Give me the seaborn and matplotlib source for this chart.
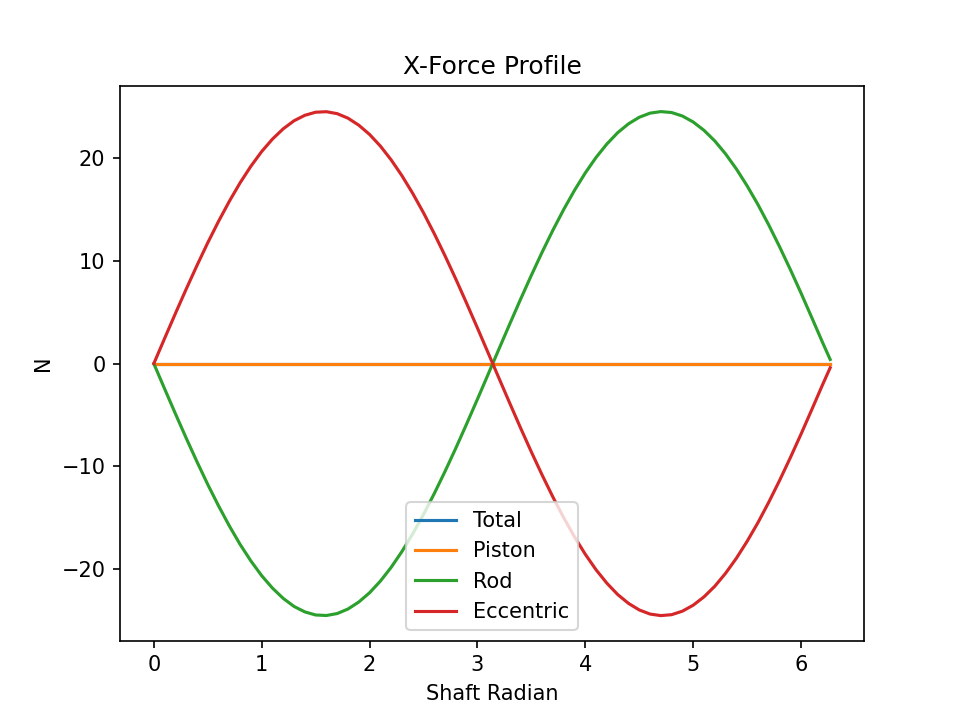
import matplotlib
matplotlib.use("Agg")
import matplotlib.pyplot as plt
import seaborn as sns
import numpy as np
import pandas as pd

shaft_radian = [0.0, 0.1, 0.2, 0.3, 0.4, 0.5, 0.6, 0.7, 0.8, 0.9,
                1.0, 1.1, 1.2, 1.3, 1.4, 1.5, 1.6, 1.7, 1.8, 1.9,
                2.0, 2.1, 2.2, 2.3, 2.4, 2.5, 2.6, 2.7, 2.8, 2.9,
                3.0, 3.1, 3.2, 3.3, 3.4, 3.5, 3.6, 3.7, 3.8, 3.9,
                4.0, 4.1, 4.2, 4.3, 4.4, 4.5, 4.6, 4.7, 4.8, 4.9,
                5.0, 5.1, 5.2, 5.3, 5.4, 5.5, 5.6, 5.7, 5.8, 5.9,
                6.0, 6.1, 6.2, 6.27]

eccentric = [0.0, 2.45, 4.87, 7.24, 9.54, 11.75, 13.83, 15.78, 17.58, 19.19,
             20.62, 21.83, 22.83, 23.61, 24.14, 24.44, 24.49, 24.30, 23.86, 23.18,
             22.28, 21.15, 19.81, 18.27, 16.55, 14.66, 12.63, 10.47, 8.21, 5.86,
             3.46, 1.02, -1.43, -3.86, -6.26, -8.59, -10.84, -12.98, -14.99, -16.85,
             -18.54, -20.05, -21.35, -22.45, -23.31, -23.95, -24.35, -24.50, -24.41, -24.07,
             -23.49, -22.68, -21.65, -20.39, -18.93, -17.28, -15.47, -13.49, -11.38, -9.16,
             -6.85, -4.46, -2.04, -0.40]

rod = [0.0, -2.45, -4.87, -7.24, -9.54, -11.75, -13.83, -15.78, -17.58, -19.19,
       -20.62, -21.83, -22.83, -23.61, -24.14, -24.44, -24.49, -24.30, -23.86, -23.18,
       -22.28, -21.15, -19.81, -18.27, -16.55, -14.66, -12.63, -10.47, -8.21, -5.86,
       -3.46, -1.02, 1.43, 3.86, 6.26, 8.59, 10.84, 12.98, 14.99, 16.85,
       18.54, 20.05, 21.35, 22.45, 23.31, 23.95, 24.35, 24.50, 24.41, 24.07,
       23.49, 22.68, 21.65, 20.39, 18.93, 17.28, 15.47, 13.49, 11.38, 9.16,
       6.85, 4.46, 2.04, 0.40]

total = [0.0] * len(shaft_radian)
piston = [0.0] * len(shaft_radian)

series_names = ["Total", "Piston", "Rod", "Eccentric"]
series_values = [total, piston, rod, eccentric]
colors = ["#1f77b4", "#ff7f0e", "#2ca02c", "#d62728"]

fig, ax = plt.subplots(figsize=(6.4, 4.8), dpi=150)
for name, vals, c in zip(series_names, series_values, colors):
    sns.lineplot(x=shaft_radian, y=vals, ax=ax, color=c, label=name,
                 estimator=None, sort=False, linewidth=1.5)

ax.set_title("X-Force Profile")
ax.set_xlabel("Shaft Radian")
ax.set_ylabel("N")
ax.legend(loc="lower center")
fig.savefig("out.png", dpi=150)
